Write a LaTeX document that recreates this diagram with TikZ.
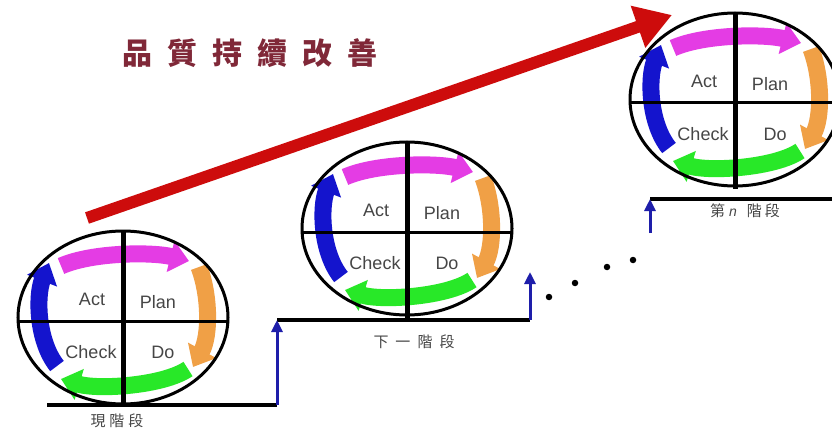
\documentclass[tikz,border=0pt]{standalone}
\usepackage{fontspec}
\setmainfont{Liberation Sans}
\newfontfamily\cjk{Noto Sans CJK TC}
\usetikzlibrary{arrows.meta}
\definecolor{titlecol}{RGB}{128,40,56}
\definecolor{magentaarr}{RGB}{228,60,228}
\definecolor{orangearr}{RGB}{240,160,70}
\definecolor{greenarr}{RGB}{40,232,40}
\definecolor{bluearr}{RGB}{20,20,205}
\definecolor{stepblue}{RGB}{30,30,170}
\definecolor{redarr}{RGB}{205,12,12}
\definecolor{labelgray}{RGB}{70,70,70}
\tikzset{
  cyc/.style={line width=17pt, -{Triangle[length=19pt,width=31pt]}},
  pdcatext/.style={font=\fontsize{18}{18}\selectfont, text=labelgray, inner sep=0pt},
  outline/.style={line width=3pt, black},
  crossline/.style={line width=3pt, black},
  vline/.style={line width=5pt, black},
  stageline/.style={line width=4pt, black},
  upstep/.style={line width=3pt, stepblue, -{Triangle[length=12pt,width=11pt]}},
  stagelabel/.style={font=\cjk\fontsize{15}{15}\selectfont, text=labelgray, inner sep=0pt},
  dotmark/.style={circle, fill=black, inner sep=0pt, minimum size=6.5pt},
  pdca/.pic={
    \draw[cyc, magentaarr] (-62,-55) .. controls (-30,-69) and (30,-69) .. (66,-60);
    \draw[cyc, orangearr] (76,-54) .. controls (87,-25) and (87,15) .. (70,46);
    \draw[cyc, greenarr] (65,48) .. controls (40,65) and (-25,69) .. (-62,58);
    \draw[cyc, bluearr] (-66,45) .. controls (-86,20) and (-87,-25) .. (-74,-58);
    \draw[outline] (0,-3.5) ellipse [x radius=105, y radius=86.5];
    \draw[crossline] (-105,0) -- (105,0);
    \draw[vline] (0,-90) -- (0,86);
    \node[pdcatext] (-act) at (-31,-22) {Act};
    \node[pdcatext] (-plan) at (35,-19) {Plan};
    \node[pdcatext] (-check) at (-32,31) {Check};
    \node[pdcatext] (-do) at (40,31) {Do};
  }
}
\begin{document}
\begin{tikzpicture}[x=1pt, y=-1pt]
  \useasboundingbox (0,0) rectangle (832,433);
  \clip (0,0) rectangle (832,433);
  \fill[white] (0,0) rectangle (832,433);

  % title
  \node[font=\cjk\bfseries\fontsize{30}{30}\selectfont, text=titlecol, inner sep=0pt] (title) at (250,53)
    {品\hspace{15pt}質\hspace{15pt}持\hspace{15pt}續\hspace{15pt}改\hspace{15pt}善};

  % stage lines and steps
  \coordinate (b1l) at (47,405);
  \coordinate (b1r) at (277,405);
  \coordinate (b2l) at (277,320);
  \coordinate (b2r) at (530,320);
  \coordinate (b2t) at (530,272);
  \coordinate (b3b) at (650,233);
  \coordinate (b3l) at (650,199);
  \coordinate (b3r) at (832,199);
  \draw[stageline] (b1l) -- (b1r);
  \draw[stageline] (b2l) -- (b2r);
  \draw[stageline] (b3l) -- (b3r);

  % PDCA cycles
  \pic (s1) at (123,321) {pdca};
  \pic (s2) at (407,232) {pdca};
  \pic (s3) at (735,103) {pdca};

  \draw[upstep] (b1r) -- (b2l);
  \draw[upstep] (b2r) -- (b2t);
  \draw[upstep] (b3b) -- (b3l);

  % dots
  \node[dotmark] (d1) at (549,297) {};
  \node[dotmark] (d2) at (575,283) {};
  \node[dotmark] (d3) at (607,267) {};
  \node[dotmark] (d4) at (633,260) {};

  % stage labels
  \node[stagelabel] (l1) at (117,421) {現\hspace{4pt}階\hspace{4pt}段};
  \node[stagelabel] (l2) at (414,342) {下\hspace{7pt}一\hspace{7pt}階\hspace{7pt}段};
  \node[stagelabel] (l3) at (745,211) {第{\rmfamily\itshape\fontsize{14}{14}\selectfont\ n}\hspace{10pt}階\hspace{3pt}段};

  % red improvement arrow
  \coordinate (rs) at (87,218);
  \coordinate (re) at (672,15);
  \draw[line width=12pt, redarr, -{Triangle[length=36pt,width=42pt]}] (rs) -- (re);
\end{tikzpicture}
\end{document}
